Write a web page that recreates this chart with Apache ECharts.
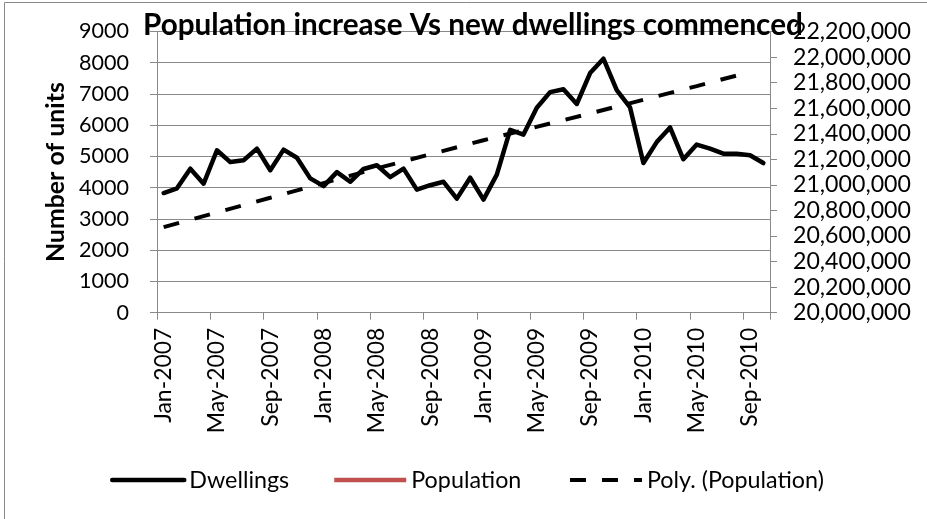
<!DOCTYPE html>
<html><head><meta charset="utf-8">
<script src="https://cdn.jsdelivr.net/npm/echarts@6/dist/echarts.min.js"></script>
<style>html,body{margin:0;padding:0;background:#fff}#c{width:927px;height:519px}</style>
</head><body><div id="c"></div>
<script>
// ---- data ----
const categories = [
  'Jan-2007','Feb-2007','Mar-2007','Apr-2007','May-2007','Jun-2007','Jul-2007','Aug-2007','Sep-2007','Oct-2007','Nov-2007','Dec-2007',
  'Jan-2008','Feb-2008','Mar-2008','Apr-2008','May-2008','Jun-2008','Jul-2008','Aug-2008','Sep-2008','Oct-2008','Nov-2008','Dec-2008',
  'Jan-2009','Feb-2009','Mar-2009','Apr-2009','May-2009','Jun-2009','Jul-2009','Aug-2009','Sep-2009','Oct-2009','Nov-2009','Dec-2009',
  'Jan-2010','Feb-2010','Mar-2010','Apr-2010','May-2010','Jun-2010','Jul-2010','Aug-2010','Sep-2010','Oct-2010'
];
const dwellings = [
  3830, 3980, 4610, 4130, 5200, 4820, 4880, 5250, 4560, 5220, 4960, 4300,
  4050, 4500, 4190, 4600, 4720, 4340, 4610, 3940, 4080, 4190, 3650, 4320,
  3620, 4420, 5850, 5700, 6560, 7060, 7150, 6680, 7670, 8130, 7120, 6570,
  4790, 5460, 5930, 4910, 5380, 5250, 5090, 5090, 5040, 4790
];
// Population series draws no visible line in the reference
const population = [];
// Poly. (Population) trend read at a few months; gaps joined by the library
const polyTrend = [
  20670000, null, null, null, null, null, null, null,
  20899000, null, null, null, null, null, null, null,
  21129000, null, null, null, null, null, null, null,
  21349000, null, null, null, null, null, null, null,
  21559000, null, null, null, null, null, null, null,
  21773000, null, null, null, 21883000, null
];
const seriesNames = ['Dwellings', 'Population', 'Poly. (Population)'];
const titleText = 'Population increase Vs new dwellings commenced';
const leftAxisName = 'Number of units';

// ---- font fitting ----
const FF = 'Lato';
function fit(text, weight, target) {
  const c = document.createElement('canvas').getContext('2d');
  c.font = weight + ' 100px ' + FF;
  return +(100 * target / c.measureText(text).width).toFixed(2);
}
const tickR = fit('20,000,000', 'normal', 118);
const tickL = fit('9000', 'normal', 50);
const tickX = fit('Sep-2010', 'normal', 99);
const titleS = fit(titleText, 'bold', 660);
const nameS = fit(leftAxisName, 'bold', 180);
const legS = fit('Dwellings', 'normal', 100);

const GRAY = '#898989';
const chart = echarts.init(document.getElementById('c'), null, {renderer: 'canvas'});
const legendCommon = {
  top: 468, itemWidth: 72, itemHeight: 24, selectedMode: false, padding: 0,
  itemStyle: {opacity: 0, borderWidth: 0},
  lineStyle: {width: 4.5},
  textStyle: {fontFamily: FF, fontSize: legS, color: '#000', lineHeight: 24}
};
chart.setOption({
  animation: false,
  backgroundColor: '#fff',
  title: {
    text: titleText, left: 143, top: 35 - 0.8225 * titleS, padding: 0,
    textStyle: {fontFamily: FF, fontWeight: 'bold', fontSize: titleS, color: '#000', lineHeight: titleS}
  },
  legend: [
    Object.assign({}, legendCommon, {left: 110, data: [seriesNames[0]]}),
    Object.assign({}, legendCommon, {left: 332, data: [seriesNames[1]]}),
    Object.assign({}, legendCommon, {left: 568, data: [seriesNames[2]], lineStyle: {width: 4}})
  ],
  graphic: [{
    type: 'rect', silent: true, z: -1,
    shape: {x: 4.5, y: 2.5, width: 1000, height: 1000},
    style: {fill: null, stroke: GRAY, lineWidth: 1}
  }],
  grid: {left: 157, right: 157, top: 31.5, bottom: 206.3, outerBoundsMode: 'none', containLabel: false},
  xAxis: {
    type: 'category', data: categories, boundaryGap: true,
    axisLine: {lineStyle: {color: GRAY, width: 1}},
    axisTick: {show: true, interval: 3, length: 7, lineStyle: {color: GRAY}},
    axisLabel: {interval: 3, rotate: 90, margin: 15, fontFamily: FF, fontSize: tickX, color: '#000'},
    splitLine: {show: false}
  },
  yAxis: [{
    type: 'value', min: 0, max: 9000, interval: 1000, position: 'left',
    name: leftAxisName, nameLocation: 'middle', nameRotate: 90, nameGap: 86,
    nameTextStyle: {fontFamily: FF, fontWeight: 'bold', fontSize: nameS, color: '#000'},
    axisLine: {show: true, lineStyle: {color: GRAY, width: 1}},
    axisTick: {show: true, length: 7, lineStyle: {color: GRAY}},
    axisLabel: {margin: 28, fontFamily: FF, fontSize: tickL, color: '#000', formatter: v => String(v)},
    splitLine: {show: true, lineStyle: {color: GRAY, width: 1.2}}
  }, {
    type: 'value', min: 20000000, max: 22200000, interval: 200000, position: 'right',
    axisLine: {show: true, lineStyle: {color: GRAY, width: 1}},
    axisTick: {show: true, length: 7, lineStyle: {color: GRAY}},
    axisLabel: {margin: 23, fontFamily: FF, fontSize: tickR, color: '#000',
      formatter: v => v.toLocaleString('en-US')},
    splitLine: {show: false}
  }],
  series: [{
    name: seriesNames[0], type: 'line', yAxisIndex: 0, data: dwellings,
    symbol: 'none', z: 3, color: '#000',
    lineStyle: {color: '#000', width: 4.5, join: 'round', cap: 'round'}
  }, {
    name: seriesNames[1], type: 'line', yAxisIndex: 1, data: population,
    symbol: 'none', z: 3, color: '#C0504D',
    lineStyle: {color: '#C0504D', width: 4.5}
  }, {
    name: seriesNames[2], type: 'line', yAxisIndex: 1, data: polyTrend,
    connectNulls: true, symbol: 'none', z: 4, color: '#000',
    lineStyle: {color: '#000', width: 4, type: [16, 16], cap: 'butt'}
  }]
});
</script>
</body></html>
